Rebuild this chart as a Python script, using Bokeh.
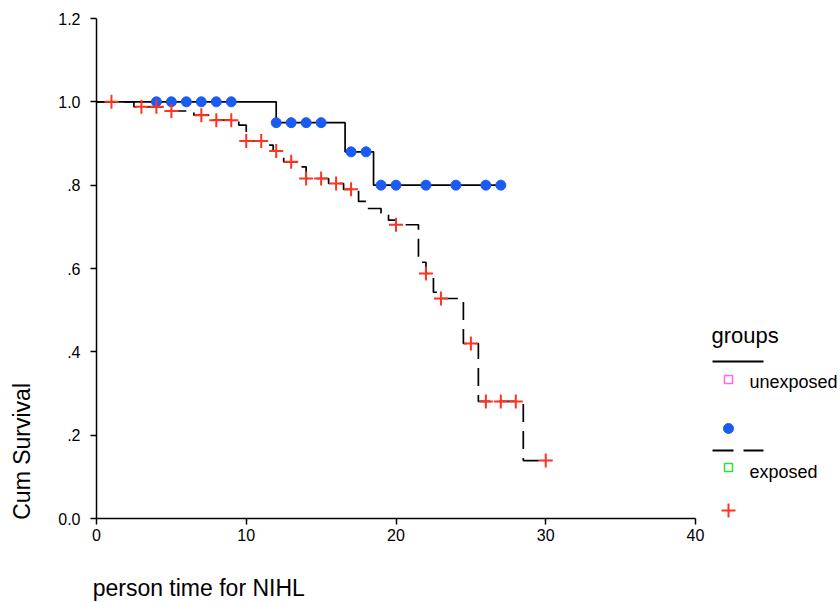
import numpy as np
from bokeh.plotting import figure
from bokeh.models import Range1d, FixedTicker, Label, Title, LinearAxis
from bokeh.embed import file_html
from bokeh.resources import INLINE

# ---------------- data ----------------
# unexposed group: Kaplan-Meier step curve (time of step, survival after step)
unexp_step_t = [0.0, 12.0, 16.6, 18.5, 27.0]
unexp_step_s = [1.0, 0.95, 0.88, 0.80, 0.80]
# unexposed censored times
unexp_cens_t = [4, 5, 6, 7, 8, 9, 12, 13, 14, 15, 17, 18, 19, 20, 22, 24, 26, 27]

# exposed group
exp_step_t = [0.0, 2.5, 4.5, 6.5, 7.5, 9.5, 10.0, 11.4, 11.8, 12.5, 13.5, 14.0, 15.5,
              16.5, 17.5, 18.0, 19.0, 19.5, 20.0, 21.5, 22.0, 22.5, 23.0, 24.5, 25.5,
              28.5, 30.0]
exp_step_s = [1.0, 0.988, 0.978, 0.968, 0.956, 0.944, 0.906, 0.896, 0.882, 0.856, 0.844,
              0.816, 0.804, 0.790, 0.761, 0.744, 0.733, 0.716, 0.705, 0.615, 0.588, 0.543,
              0.528, 0.420, 0.281, 0.139, 0.139]
exp_cens_t = [1, 3, 4, 5, 7, 8, 9, 10, 11, 12, 13, 14, 15, 16, 17, 20, 22, 23, 25, 26,
              27, 28, 30]

x_ticks = [0, 10, 20, 30, 40]
y_ticks = [0.0, 0.2, 0.4, 0.6, 0.8, 1.0, 1.2]
y_tick_labels = ["0.0", ".2", ".4", ".6", ".8", "1.0", "1.2"]
group_names = ["unexposed", "exposed"]
x_title = "person time for NIHL"
y_title = "Cum Survival"


def surv_at(step_t, step_s, times):
    t = np.asarray(step_t)
    s = np.asarray(step_s)
    idx = np.searchsorted(t, np.asarray(times, dtype=float), side="right") - 1
    return s[idx].tolist()


unexp_cens_s = surv_at(unexp_step_t, unexp_step_s, unexp_cens_t)
exp_cens_s = surv_at(exp_step_t, exp_step_s, exp_cens_t)

# ---------------- layout ----------------
W, H = 840, 603
BL, BR, BT, BB = 96, 0, 18, 85
FRAME_W = W - BL - BR
FRAME_H = H - BT - BB
PX_PER_X = 599.0 / 40.0
X_END = FRAME_W / PX_PER_X
Y_END = 1.2

FONT = "Liberation Sans"
BLUE = "#1A5CF2"
RED = "#FF3322"
NBSP = "\u00a0"


def px_x(px):  # page pixel -> data x
    return (px - BL) / PX_PER_X


def px_y(py):  # page pixel -> data y
    return (BT + FRAME_H - py) * Y_END / FRAME_H


p = figure(width=W, height=H, output_backend="svg", toolbar_location=None,
           x_range=Range1d(0, X_END), y_range=Range1d(0, Y_END),
           min_border_left=BL, min_border_right=BR, min_border_top=BT,
           min_border_bottom=BB)
p.outline_line_color = None
p.xgrid.visible = False
p.ygrid.visible = False
p.background_fill_color = "white"
p.border_fill_color = "white"

for ax in (p.xaxis[0], p.yaxis[0]):
    ax.axis_line_width = 1.5
    ax.axis_line_color = "black"
    ax.major_tick_line_color = "black"
    ax.major_tick_line_width = 1.5
    ax.major_tick_in = 0
    ax.major_tick_out = 6
    ax.minor_tick_line_color = None
    ax.major_label_text_font = FONT
    ax.major_label_text_font_size = "16px"
    ax.major_label_text_color = "black"
    ax.axis_label_text_font = FONT
    ax.axis_label_text_font_size = "23px"
    ax.axis_label_text_font_style = "normal"
    ax.axis_label_text_color = "black"

p.xaxis[0].ticker = FixedTicker(ticks=x_ticks, minor_ticks=[])
p.xaxis[0].bounds = (0, 40)
p.xaxis[0].major_label_standoff = 4
p.yaxis[0].ticker = FixedTicker(ticks=y_ticks, minor_ticks=[])
p.yaxis[0].bounds = (0, 1.2)
p.yaxis[0].major_label_standoff = 10
p.yaxis[0].major_label_overrides = {t: l for t, l in zip(y_ticks, y_tick_labels)}

# axis titles, placed at the start of each axis (SPSS style); the label is
# centred on the axis start, so leading no-break spaces shift the words past it
if "axis_label_align" in LinearAxis.properties():
    p.xaxis[0].axis_label = NBSP * 32 + x_title
    p.xaxis[0].axis_label_align = "start"
    p.xaxis[0].axis_label_standoff = 31
    p.yaxis[0].axis_label = NBSP * 21 + y_title
    p.yaxis[0].axis_label_align = "start"
    p.yaxis[0].axis_label_standoff = 20
else:
    p.add_layout(Title(text=x_title, align="left", text_font=FONT,
                       text_font_size="23px", text_font_style="normal",
                       text_color="black", standoff=0, offset=-3), "below")
    p.add_layout(Title(text=y_title, align="left", text_font=FONT,
                       text_font_size="23px", text_font_style="normal",
                       text_color="black", standoff=18, vertical_align="top"), "left")

# curves
p.step(unexp_step_t, unexp_step_s, mode="after", line_color="black", line_width=1.7)
p.step(exp_step_t, exp_step_s, mode="after", line_color="black", line_width=1.7,
       line_dash="18 9")

# censor marks
p.scatter(unexp_cens_t, unexp_cens_s, marker="circle", size=10, fill_color=BLUE,
          line_color=BLUE, line_width=1)
p.scatter(exp_cens_t, exp_cens_s, marker="cross", size=14, line_color=RED, line_width=2)

# legend (manual, SPSS-style)
p.add_layout(Label(x=px_x(711), y=px_y(335), text="groups", text_font=FONT,
                   text_font_size="22px", text_baseline="middle", text_color="black"))
p.line([px_x(712), px_x(763)], [px_y(361)] * 2, line_color="black", line_width=2)
p.scatter([px_x(728)], [px_y(379)], marker="square", size=8, fill_color="white",
          line_color="#FF66FF", line_width=1.5)
p.add_layout(Label(x=px_x(749), y=px_y(381), text=group_names[0], text_font=FONT,
                   text_font_size="18px", text_baseline="middle", text_color="black"))
p.scatter([px_x(728)], [px_y(428)], marker="circle", size=10, fill_color=BLUE,
          line_color=BLUE)
p.line([px_x(712), px_x(763)], [px_y(450)] * 2, line_color="black", line_width=2,
       line_dash="21 10")
p.scatter([px_x(728)], [px_y(467)], marker="square", size=8, fill_color="white",
          line_color="#33DD33", line_width=1.5)
p.add_layout(Label(x=px_x(749), y=px_y(471), text=group_names[1], text_font=FONT,
                   text_font_size="18px", text_baseline="middle", text_color="black"))
p.scatter([px_x(728)], [px_y(510)], marker="cross", size=14, line_color=RED,
          line_width=2)

open("out.html", "w").write(file_html(p, INLINE))
